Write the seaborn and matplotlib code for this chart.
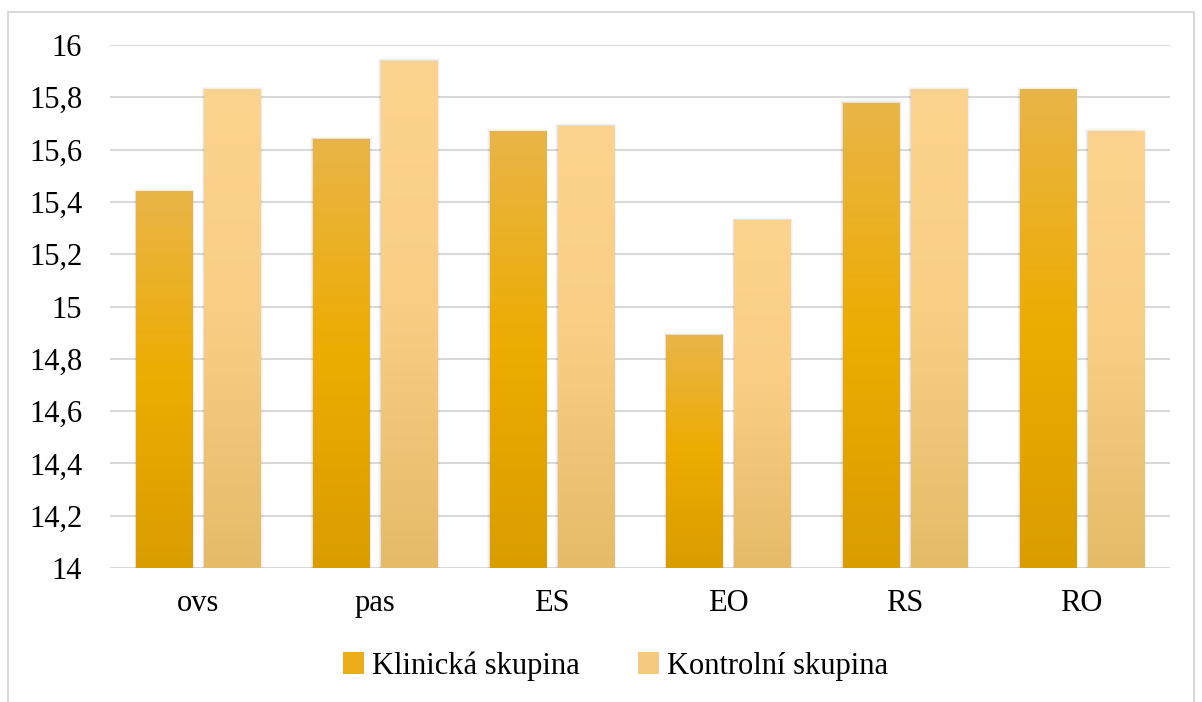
import numpy as np
import pandas as pd
import matplotlib
matplotlib.use("Agg")
import matplotlib.pyplot as plt
import seaborn as sns
from matplotlib.patches import Patch, Rectangle
from matplotlib.colors import LinearSegmentedColormap
from matplotlib.lines import Line2D

categories = ["ovs", "pas", "ES", "EO", "RS", "RO"]
klinicka = [15.44, 15.64, 15.67, 14.89, 15.78, 15.83]
kontrolni = [15.83, 15.94, 15.69, 15.33, 15.83, 15.67]
groups = ["Klinická skupina", "Kontrolní skupina"]
yticks = [14, 14.2, 14.4, 14.6, 14.8, 15, 15.2, 15.4, 15.6, 15.8, 16]
ymin, ymax = 14, 16

df = pd.DataFrame({
    "cat": categories * 2,
    "val": klinicka + kontrolni,
    "grp": [groups[0]] * len(categories) + [groups[1]] * len(categories),
})

sns.set_theme(style="white")
plt.rcParams["font.family"] = ["Liberation Serif", "DejaVu Serif"]
plt.rcParams["text.color"] = "black"

W, H = 1202, 702
fig = plt.figure(figsize=(W / 100, H / 100), dpi=100)
fig.patch.set_facecolor("white")
ax = fig.add_axes([110 / W, 1 - 568 / H, 1060 / W, 523 / H])

base_cols = ["#EDAC00", "#FAD08A"]
sns.barplot(data=df, x="cat", y="val", hue="grp", palette=base_cols,
            width=0.77, gap=0.176, ax=ax, legend=False, zorder=3,
            order=categories, hue_order=groups)

ax.set_ylim(ymin, ymax)
ax.set_xlim(-0.5, len(categories) - 0.5)
ax.set_yticks(yticks)
ax.set_yticklabels([("%.1f" % v).replace(".", ",").replace(",0", "") for v in yticks])
ax.yaxis.grid(True, color="#D9D9D9", linewidth=1.5, zorder=0)
ax.set_axisbelow(True)
for s in ax.spines.values():
    s.set_visible(False)
ax.set_xlabel("")
ax.set_ylabel("")
ax.tick_params(axis="y", length=0, pad=20, labelsize=22, colors="black")
ax.tick_params(axis="x", length=0, pad=15, labelsize=22, colors="black")

cmaps = [
    LinearSegmentedColormap.from_list("k", [(0, "#DA9D00"), (0.5, "#EDAC00"), (1, "#E9B548")]),
    LinearSegmentedColormap.from_list("c", [(0, "#E4BC68"), (0.55, "#F9CF86"), (1, "#FDD48F")]),
]
grad = np.linspace(0, 1, 256).reshape(-1, 1)
n = len(categories)
for i, p in enumerate(ax.patches[: 2 * n]):
    g = i // n
    x0 = p.get_x()
    w = p.get_width()
    top = p.get_y() + p.get_height()
    p.set_y(ymin)
    p.set_height(top - ymin)
    y0, h = ymin, top - ymin
    # soft shadow
    for k, a in enumerate([0.06, 0.04, 0.025]):
        dx = 0.005 * (k + 1)
        sh = Rectangle((x0 - dx, y0), w + 2 * dx, h + 0.003 * (k + 1),
                       facecolor="black", alpha=a, edgecolor="none", zorder=2)
        ax.add_patch(sh)
    p.set_facecolor("none")
    p.set_edgecolor("none")
    im = ax.imshow(grad, cmap=cmaps[g], aspect="auto", origin="lower",
                   extent=[x0, x0 + w, y0, top], zorder=3, interpolation="bicubic")
    im.set_clip_path(p)
ax.set_xlim(-0.5, len(categories) - 0.5)
ax.set_ylim(ymin, ymax)

handles = [Patch(facecolor="#EBAE18", edgecolor="none"),
           Patch(facecolor="#F6CA80", edgecolor="none")]
leg = fig.legend(handles, groups, loc="center", bbox_to_anchor=(0.512, 1 - 666 / H),
                 ncol=2, frameon=False, fontsize=22, handlelength=0.7, handleheight=0.7,
                 handletextpad=0.25, columnspacing=1.9)
for t in leg.get_texts():
    t.set_color("black")

bc = "#D9D9D9"
fig.add_artist(Line2D([8 / W, 8 / W], [0, 1 - 12 / H], transform=fig.transFigure, color=bc, lw=1.5))
fig.add_artist(Line2D([8 / W, 1194 / W], [1 - 12 / H, 1 - 12 / H], transform=fig.transFigure, color=bc, lw=1.5))
fig.add_artist(Line2D([1194 / W, 1194 / W], [0, 1 - 12 / H], transform=fig.transFigure, color=bc, lw=1.5))

fig.savefig("out.png", dpi=100, facecolor="white")
